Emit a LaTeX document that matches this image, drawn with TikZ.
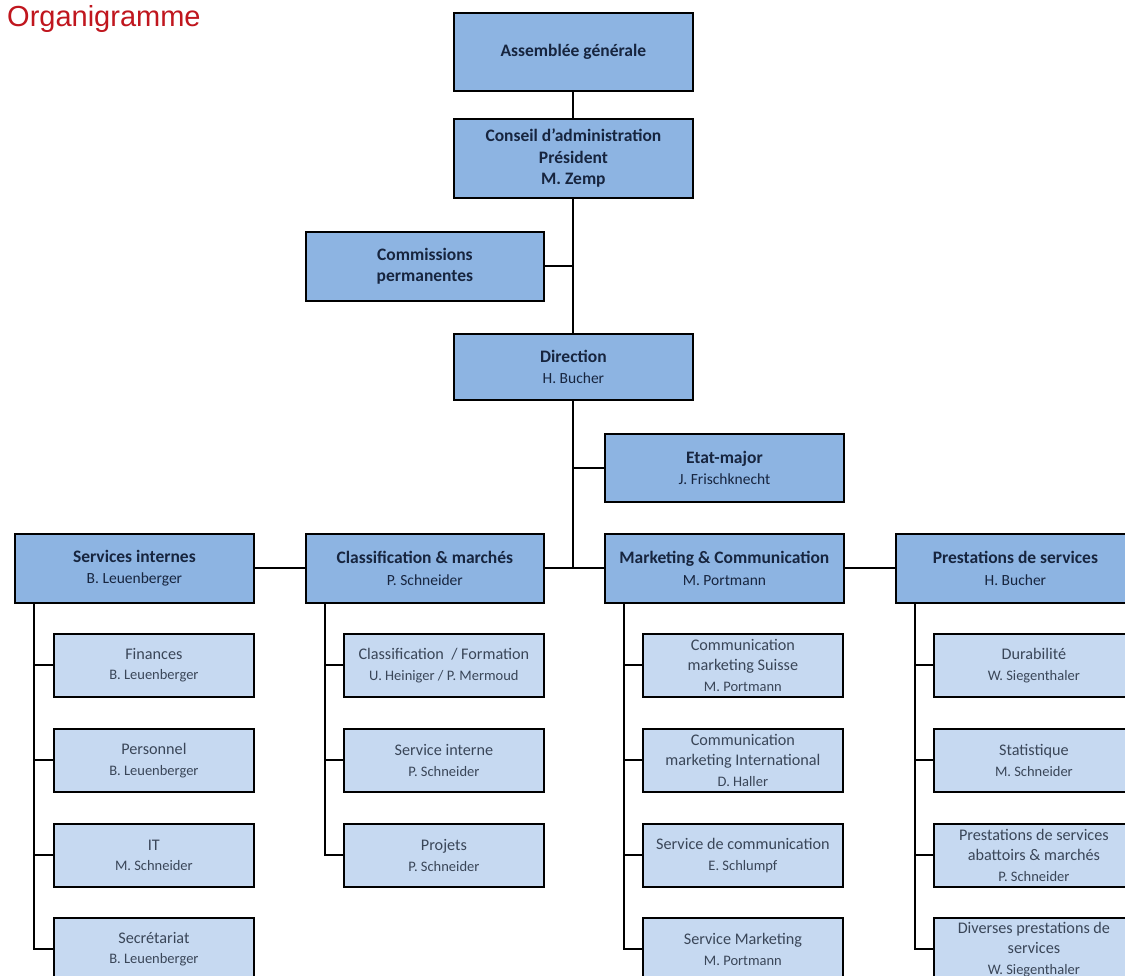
\documentclass[tikz,border=0pt]{standalone}
\usepackage{fontspec}
\setmainfont{Carlito}
\newfontfamily\titlefont{Liberation Sans}
\definecolor{hdrfill}{HTML}{8DB4E2}
\definecolor{chfill}{HTML}{C6D9F1}
\definecolor{hdrtext}{HTML}{17253F}
\definecolor{chtext}{HTML}{3A4658}
\definecolor{titlered}{HTML}{C0161E}
\tikzset{
  box/.style={draw=black, line width=1.8pt, inner sep=0pt, anchor=north west, align=center},
  hdr/.style={box, fill=hdrfill, text=hdrtext, minimum width=239pt, font=\fontsize{17.5}{21.5}\selectfont\bfseries},
  chd/.style={box, fill=chfill, text=chtext, minimum width=200pt, minimum height=63pt, font=\fontsize{16.2}{20.5}\selectfont},
  link/.style={line width=2pt, draw=black},
}
\newcommand\hsub[1]{{\fontsize{15.5}{21}\selectfont\mdseries #1}}
\newcommand\csub[1]{{\fontsize{14.5}{20}\selectfont #1}}
\begin{document}
\begin{tikzpicture}[x=1pt,y=-1pt]
\useasboundingbox (0,0) rectangle (1125,976);
\clip (0,0) rectangle (1125,976);
\fill[white] (0,0) rectangle (1125,976);
\node[anchor=base west, font=\titlefont\fontsize{29}{30}\selectfont, text=titlered, inner sep=0pt] (title) at (7,27) {Organigramme};
% top chain
\node[hdr, minimum height=78pt] (ag) at (453,12) {Assemblée générale};
\node[hdr, minimum height=79pt] (ca) at (453,118) {Conseil d'administration\\Président\\M. Zemp};
\node[hdr, minimum width=238pt, minimum height=69pt] (cp) at (305,231) {Commissions\\permanentes};
\node[hdr, minimum height=66pt] (dir) at (453,333) {Direction\\\hsub{H. Bucher}};
\node[hdr, minimum height=68pt] (em) at (604,433) {Etat-major\\\hsub{J. Frischknecht}};
% departments
\node[hdr, minimum height=69pt] (si) at (14,533) {Services internes\\\hsub{B. Leuenberger}};
\node[hdr, minimum width=238pt, minimum height=69pt] (cm) at (305,533) {Classification \& marchés\\\hsub{P. Schneider}};
\node[hdr, minimum height=69pt] (mc) at (604,533) {Marketing \& Communication\\\hsub{M. Portmann}};
\node[hdr, minimum height=69pt] (ps) at (895,533) {Prestations de services\\\hsub{H. Bucher}};
% Services internes children
\node[chd] (si1) at (53,633) {Finances\\\csub{B. Leuenberger}};
\node[chd] (si2) at (53,728) {Personnel\\\csub{B. Leuenberger}};
\node[chd] (si3) at (53,823) {IT\\\csub{M. Schneider}};
\node[chd] (si4) at (53,917) {Secrétariat\\\csub{B. Leuenberger}};
% Classification children
\node[chd] (cm1) at (343,633) {Classification~~/ Formation\\\csub{U. Heiniger / P. Mermoud}};
\node[chd] (cm2) at (343,728) {Service interne\\\csub{P. Schneider}};
\node[chd] (cm3) at (343,823) {Projets\\\csub{P. Schneider}};
% Marketing children
\node[chd] (mc1) at (642,633) {Communication\\marketing Suisse\\\csub{M. Portmann}};
\node[chd] (mc2) at (642,728) {Communication\\marketing International\\\csub{D. Haller}};
\node[chd] (mc3) at (642,823) {Service de communication\\\csub{E. Schlumpf}};
\node[chd] (mc4) at (642,917) {Service Marketing\\\csub{M. Portmann}};
% Prestations children
\node[chd] (ps1) at (933,633) {Durabilité\\\csub{W. Siegenthaler}};
\node[chd] (ps2) at (933,728) {Statistique\\\csub{M. Schneider}};
\node[chd] (ps3) at (933,823) {Prestations de services\\abattoirs \& marchés\\\csub{P. Schneider}};
\node[chd] (ps4) at (933,917) {Diverses prestations de\\services\\\csub{W. Siegenthaler}};
% connectors
\draw[link] (ag) -- (ca);
\draw[link] (ca) -- (dir);
\draw[link] (cp.east) -- (cp.east -| dir.north);
\draw[link] (em.west) -- (em.west -| dir.south);
\coordinate (hj) at (dir.south |- si.east);
\draw[link] (dir.south) -- (hj);
\draw[link] (si.east) -- (cm.west);
\draw[link] (cm.east) -- (mc.west);
\draw[link] (mc.east) -- (ps.west);
\foreach \p/\n in {si/4, cm/3, mc/4, ps/4}{
  \foreach \i in {1,...,\n}{
    \draw[link] ([xshift=20pt]\p.south west) |- (\p\i.west);
  }
}
\end{tikzpicture}
\end{document}
